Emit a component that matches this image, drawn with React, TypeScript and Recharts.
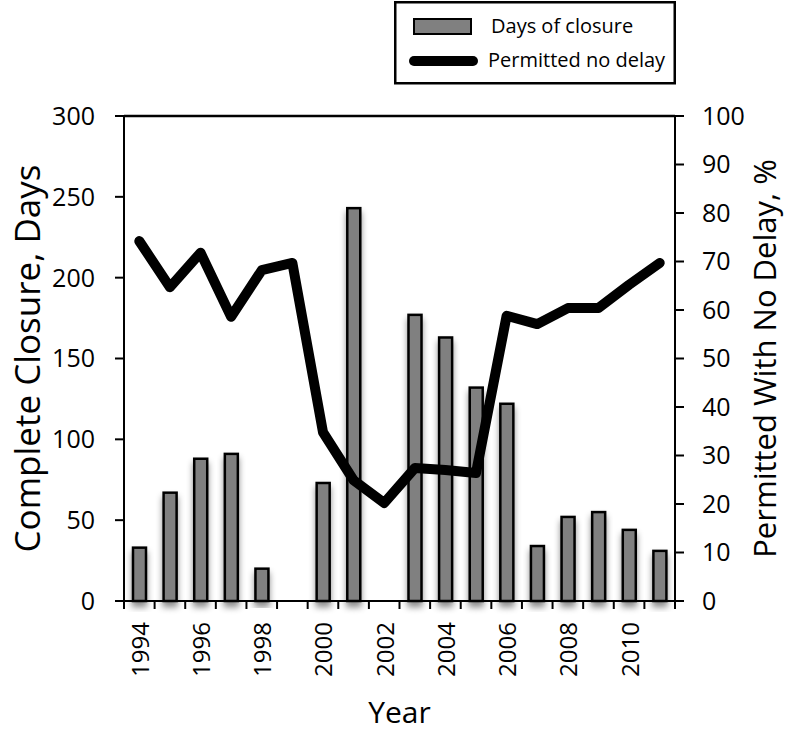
import React from 'react';
import { ComposedChart, Bar, Line, XAxis, YAxis, ReferenceLine, Legend } from 'recharts';

const years = ['1994','1995','1996','1997','1998','1999','2000','2001','2002','2003','2004','2005','2006','2007','2008','2009','2010','2011'];
const closureDays: (number | null)[] = [33, 67, 88, 91, 20, null, 73, 243, null, 177, 163, 132, 122, 34, 52, 55, 44, 31];
const permittedPct = [74.2, 64.7, 71.8, 58.6, 68.2, 69.7, 34.8, 24.9, 20.2, 27.4, 27.0, 26.4, 58.8, 57.1, 60.4, 60.4, 65.2, 69.7];
const leftTicks = [0, 50, 100, 150, 200, 250, 300];
const rightTicks = [0, 10, 20, 30, 40, 50, 60, 70, 80, 90, 100];

const data = years.map((y, i) => ({ year: y, days: closureDays[i], pct: permittedPct[i] }));

const W = 791;
const H = 735;
const LEFT_W = 124;
const RIGHT_W = 116;
const PLOT_W = W - LEFT_W - RIGHT_W;
const BAND = PLOT_W / years.length;
const FONT = '"Open Sans", sans-serif';

const XTick = (props: any) => {
  const { x, y, payload, index } = props;
  const ty = y + 21;
  const last = index === years.length - 1;
  return (
    <g>
      <line x1={x - BAND / 2} x2={x - BAND / 2} y1={y} y2={y + 8} stroke="#000" strokeWidth={2} />
      {last && <line x1={x + BAND / 2} x2={x + BAND / 2} y1={y} y2={y + 8} stroke="#000" strokeWidth={2} />}
      {index % 2 === 0 && (
        <text
          x={x}
          y={ty}
          transform={`rotate(-90, ${x}, ${ty})`}
          textAnchor="end"
          dominantBaseline="central"
          fontFamily={FONT}
          fontSize={24}
          fill="#000"
        >
          {payload.value}
        </text>
      )}
    </g>
  );
};

const BarShape = (props: any) => {
  const { x, y, width, height } = props;
  if (!height || height <= 0) return null;
  return (
    <rect x={x} y={y} width={width} height={height} fill="#808080" stroke="#000" strokeWidth={2.5} filter="url(#barShadow)" />
  );
};

const LegendBox = () => (
  <svg width={282} height={84} style={{ display: 'block' }}>
    <rect x={1.25} y={1.25} width={279.5} height={81} fill="#fff" stroke="#000" strokeWidth={2.5} />
    <rect x={20} y={18} width={57} height={15} fill="#808080" stroke="#000" strokeWidth={2} />
    <text x={97} y={32} fontFamily={FONT} fontSize={20} fill="#000">Days of closure</text>
    <line x1={20} x2={79} y1={60} y2={60} stroke="#000" strokeWidth={10} strokeLinecap="round" />
    <text x={94} y={66} fontFamily={FONT} fontSize={20} fill="#000">Permitted no delay</text>
  </svg>
);

export default function App() {
  return (
    <div style={{ position: 'absolute', left: 0, top: 0, width: W, height: H, background: '#fff' }}>
      <svg width={0} height={0} style={{ position: 'absolute' }}>
        <defs>
          <filter id="barShadow" x="-60%" y="-10%" width="220%" height="130%">
            <feDropShadow dx={0} dy={5} stdDeviation={3} floodColor="#000" floodOpacity={0.45} />
          </filter>
        </defs>
      </svg>
      <ComposedChart width={W} height={H} data={data} margin={{ top: 116, right: 0, bottom: 0, left: 0 }}>
        <XAxis
          dataKey="year"
          interval={0}
          height={H - 601}
          tickLine={false}
          tickSize={0}
          tickMargin={0}
          axisLine={{ stroke: '#000', strokeWidth: 2 }}
          tick={<XTick />}
          label={(p: any) => {
            const vb = p.viewBox;
            return (
              <text x={vb.x + vb.width / 2} y={vb.y + 122} textAnchor="middle" fontFamily={FONT} fontSize={30} fill="#000">
                Year
              </text>
            );
          }}
        />
        <YAxis
          yAxisId="left"
          width={LEFT_W}
          domain={[0, 300]}
          ticks={leftTicks}
          interval={0}
          tickSize={9}
          tickMargin={20}
          axisLine={{ stroke: '#000', strokeWidth: 2 }}
          tickLine={{ stroke: '#000', strokeWidth: 2 }}
          tick={{ fontFamily: FONT, fontSize: 25, fill: '#000' }}
          label={(p: any) => {
            const vb = p.viewBox;
            const cx = vb.x + 26;
            const cy = vb.y + vb.height / 2;
            return (
              <text x={cx} y={cy} transform={`rotate(-90, ${cx}, ${cy})`} textAnchor="middle" dominantBaseline="central" fontFamily={FONT} fontSize={35} fill="#000">
                Complete Closure, Days
              </text>
            );
          }}
        />
        <YAxis
          yAxisId="right"
          orientation="right"
          width={RIGHT_W}
          domain={[0, 100]}
          ticks={rightTicks}
          interval={0}
          tickSize={9}
          tickMargin={18}
          axisLine={{ stroke: '#000', strokeWidth: 2 }}
          tickLine={{ stroke: '#000', strokeWidth: 2 }}
          tick={{ fontFamily: FONT, fontSize: 25, fill: '#000' }}
          label={(p: any) => {
            const vb = p.viewBox;
            const cx = vb.x + 89;
            const cy = vb.y + vb.height / 2;
            return (
              <text x={cx} y={cy} transform={`rotate(-90, ${cx}, ${cy})`} textAnchor="middle" dominantBaseline="central" fontFamily={FONT} fontSize={31} fill="#000">
                Permitted With No Delay, %
              </text>
            );
          }}
        />
        <ReferenceLine yAxisId="left" y={300} stroke="#000" strokeWidth={2.5} />
        <Bar yAxisId="left" dataKey="days" barSize={13} shape={<BarShape />} isAnimationActive={false} />
        <Line
          yAxisId="right"
          dataKey="pct"
          type="linear"
          stroke="#000"
          strokeWidth={10}
          strokeLinejoin="round"
          strokeLinecap="round"
          dot={false}
          activeDot={false}
          isAnimationActive={false}
        />
        <Legend
          layout="horizontal"
          verticalAlign="middle"
          align="center"
          wrapperStyle={{ position: 'absolute', left: 394, top: 1, width: 282, height: 84, margin: 0, padding: 0 }}
          content={() => <LegendBox />}
        />
      </ComposedChart>
    </div>
  );
}
